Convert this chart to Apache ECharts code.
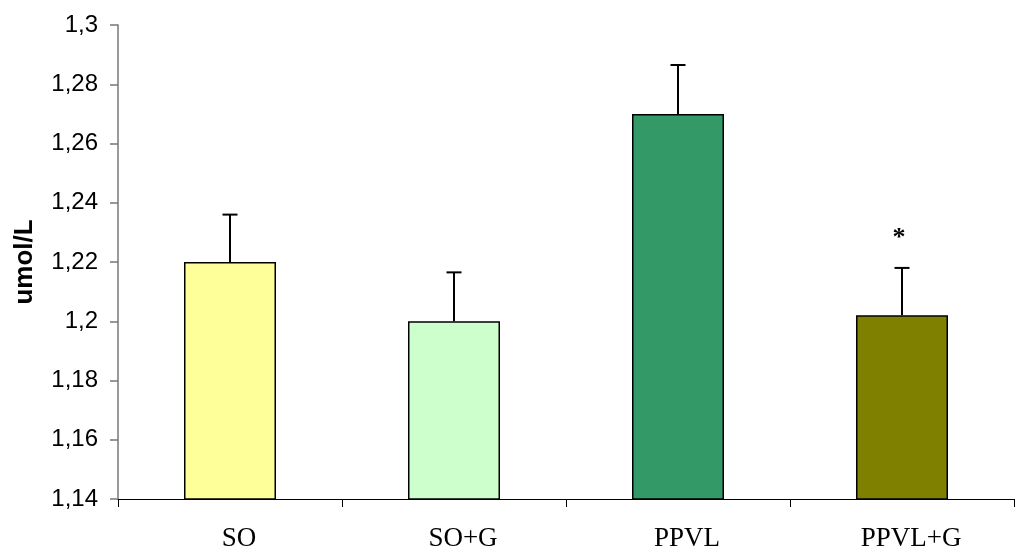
<!DOCTYPE html>
<html>
<head>
<meta charset="utf-8">
<script src="https://cdn.jsdelivr.net/npm/echarts@6/dist/echarts.min.js"></script>
<style>html,body{margin:0;padding:0;background:#fff}#c{width:1020px;height:556px}</style>
</head>
<body>
<div id="c"></div>
<script>
const categories = ['SO', 'SO+G', 'PPVL', 'PPVL+G'];
const values = [1.22, 1.20, 1.27, 1.202];
const errors = [0.016, 0.0165, 0.0165, 0.016];
const marks = ['', '', '', '*'];
const colors = ['#FFFF99', '#CCFFCC', '#339966', '#808000'];
const yTicks = { min: 1.14, max: 1.30, interval: 0.02 };
const yTitle = 'umol/L';

const chart = echarts.init(document.getElementById('c'), null, { renderer: 'canvas' });
const fmt = v => parseFloat(v.toFixed(2)).toString().replace('.', ',');

chart.setOption({
  animation: false,
  backgroundColor: '#fff',
  grid: { left: 118, right: 6, top: 25, bottom: 57, containLabel: false },
  xAxis: {
    type: 'category',
    data: categories,
    axisLine: { lineStyle: { color: '#000', width: 1 } },
    axisTick: { show: true, length: 8, alignWithLabel: false, lineStyle: { color: '#000' } },
    axisLabel: { color: '#000', fontFamily: 'Liberation Serif', fontSize: 27, margin: 26, padding: [0, 0, 0, 18] },
    splitLine: { show: false }
  },
  yAxis: {
    type: 'value',
    min: yTicks.min, max: yTicks.max, interval: yTicks.interval,
    name: yTitle,
    nameLocation: 'middle',
    nameGap: 80,
    nameRotate: 90,
    nameTextStyle: { color: '#000', fontFamily: 'Liberation Sans', fontWeight: 'bold', fontSize: 26 },
    axisLine: { show: true, lineStyle: { color: '#777', width: 1.5 } },
    axisTick: { show: true, length: 8, inside: false, lineStyle: { color: '#777', width: 1.5 } },
    axisLabel: { color: '#000', fontFamily: 'Liberation Sans', fontSize: 24, margin: 20, formatter: fmt },
    splitLine: { show: false }
  },
  series: [
    {
      type: 'bar',
      barWidth: 92,
      data: values.map((v, i) => ({ value: v, itemStyle: { color: colors[i] } })),
      itemStyle: { borderColor: '#000', borderWidth: 1.5 },
      z: 2
    },
    {
      type: 'custom',
      data: values.map((v, i) => [i, v, v + errors[i], marks[i]]),
      renderItem: function (params, api) {
        const base = api.coord([api.value(0), api.value(1)]);
        const top = api.coord([api.value(0), api.value(2)]);
        const mark = marks[params.dataIndex];
        const x = base[0];
        const children = [
          { type: 'line', shape: { x1: x, y1: base[1], x2: x, y2: top[1] }, style: { stroke: '#000', lineWidth: 2 } },
          { type: 'line', shape: { x1: x - 7.5, y1: top[1], x2: x + 7.5, y2: top[1] }, style: { stroke: '#000', lineWidth: 2 } }
        ];
        if (mark) {
          children.push({ type: 'text', style: { text: mark, x: x - 3, y: top[1] - 30, align: 'center', verticalAlign: 'middle', font: 'bold 26px "Liberation Serif"', fill: '#000' } });
        }
        return { type: 'group', children: children };
      },
      z: 3
    }
  ]
});
</script>
</body>
</html>
